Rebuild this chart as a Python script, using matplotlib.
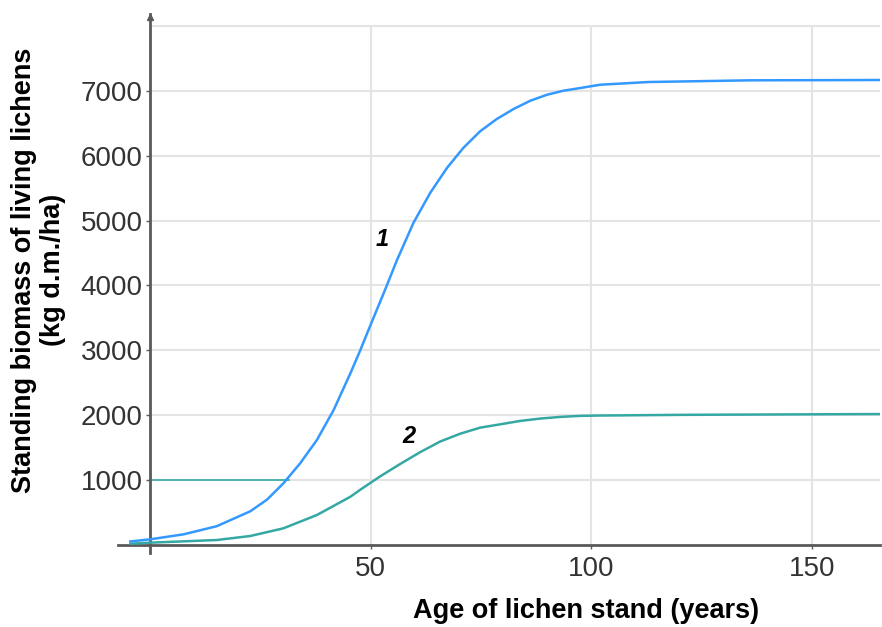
import numpy as np
import matplotlib.pyplot as plt

# curve 1 - all lichens (blue)
age_1 = [-4.5, 0, 7.6, 15.1, 22.7, 26.5, 30.2, 34, 37.8, 41.6, 45.4, 47.6, 49.5, 53.3, 55.9,
         59.7, 63.5, 67.3, 71.0, 74.8, 78.6, 82.4, 86.2, 90, 93.7, 97.5, 102, 113, 136, 165.5]
biomass_1 = [55, 88, 165, 290, 520, 700, 950, 1259, 1618, 2080, 2646, 2994, 3313, 3938, 4380,
             4964, 5426, 5810, 6118, 6374, 6564, 6718, 6846, 6938, 7000, 7041, 7092, 7134, 7160, 7165]

# curve 2 (teal)
age_2 = [-4.5, 0, 15.1, 22.7, 30.2, 37.8, 45.4, 47.6, 50, 52.2, 56.7, 61.2, 65.8, 70.3, 74.8,
         79.4, 83.9, 88.4, 93, 97.5, 102, 121, 165.5]
biomass_2 = [20, 36, 77, 139, 257, 462, 744, 850, 960, 1060, 1249, 1430, 1596, 1715, 1808,
             1860, 1912, 1948, 1974, 1990, 1995, 2006, 2018]

ref_level = 1000
ref_age_end = 31.4

x_ticks = [50, 100, 150]
y_ticks = [1000, 2000, 3000, 4000, 5000, 6000, 7000]
grid_y = [1000, 2000, 3000, 4000, 5000, 6000, 7000, 8000]

blue = '#3399ff'
teal = '#35a8a3'
axis_col = '#5a5a5a'
grid_col = '#e4e4e4'

plt.rcParams['font.family'] = ['Liberation Sans', 'DejaVu Sans']

fig = plt.figure(figsize=(8.82, 6.27), dpi=100)
ax = fig.add_axes([118 / 882, 1 - 553 / 627, 762 / 882, 539 / 627])
x_min, x_max = -7.3, 165.5
y_min, y_max = -123, 8182
ax.set_xlim(x_min, x_max)
ax.set_ylim(y_min, y_max)

# grid drawn by hand so it starts at the axes
ax.hlines(grid_y, 0, x_max, color=grid_col, lw=1.5, zorder=0)
ax.vlines(x_ticks, 0, 8000, color=grid_col, lw=1.5, zorder=0)

ax.plot([0, ref_age_end], [ref_level, ref_level], color=teal, lw=1.2, zorder=2)
ax.plot(age_2, biomass_2, color=teal, lw=1.8, zorder=3)
ax.plot(age_1, biomass_1, color=blue, lw=1.8, zorder=3)

ax.text(52.5, 4700, '1', fontsize=17, fontweight='bold', fontstyle='italic', ha='center', va='center')
ax.text(58.6, 1669, '2', fontsize=17, fontweight='bold', fontstyle='italic', ha='center', va='center')

for s in ['top', 'right']:
    ax.spines[s].set_visible(False)
ax.spines['left'].set_position(('data', 0))
ax.spines['bottom'].set_position(('data', 0))
for s in ['left', 'bottom']:
    ax.spines[s].set_color(axis_col)
    ax.spines[s].set_linewidth(2)
ax.plot([0], [y_max - 40], marker='^', color=axis_col, markersize=5, clip_on=False, zorder=5)

ax.set_xticks(x_ticks)
ax.set_yticks(y_ticks)
ax.tick_params(axis='x', length=3, width=1, color=axis_col, pad=5, labelsize=20, labelcolor='#333333')
ax.tick_params(axis='y', length=3, width=1, color=axis_col, pad=2.5, labelsize=20, labelcolor='#333333')

fig.text(586 / 882, 1 - 611 / 627, 'Age of lichen stand (years)', fontsize=19.5, fontweight='bold',
         ha='center', va='center')
fig.text(38.5 / 882, 1 - 270 / 627, 'Standing biomass of living lichens\n(kg d.m./ha)', fontsize=19.5,
         fontweight='bold', rotation=90, ha='center', va='center', multialignment='center', linespacing=1.15)

fig.savefig('out.png', dpi=100)
